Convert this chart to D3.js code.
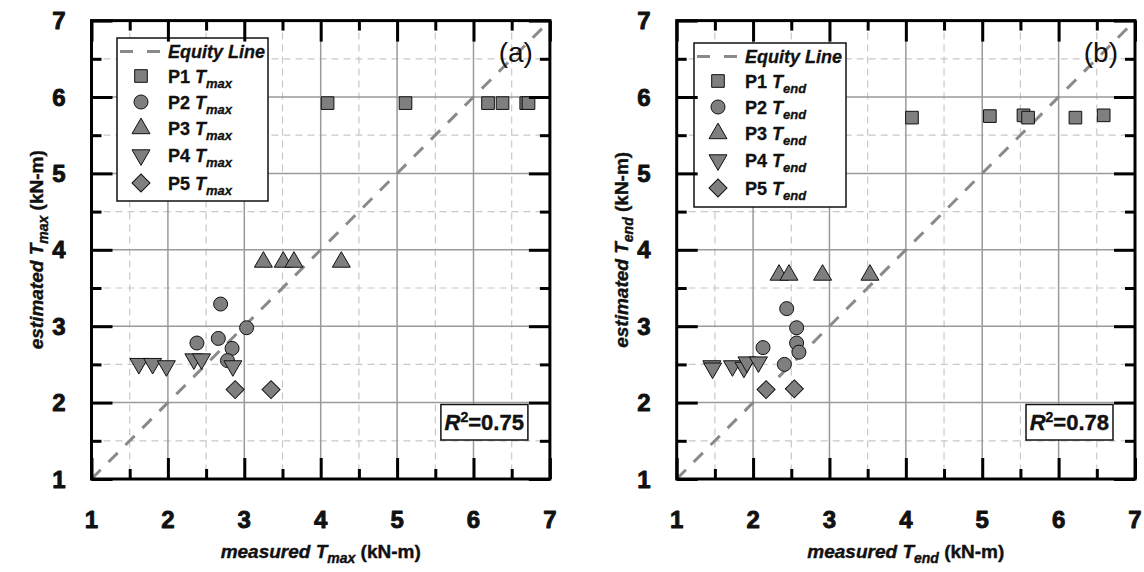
<!DOCTYPE html>
<html>
<head>
<meta charset="utf-8">
<script src="https://cdn.jsdelivr.net/npm/d3@7"></script>
<style>
  body { margin: 0; background: #fff; }
  svg { display: block; }
  text { font-family: "Liberation Sans", Arial, Helvetica, sans-serif; }
</style>
</head>
<body>
<svg id="chart" width="1144" height="572"></svg>
<script>
// ---- data ----
const axisTicks = [1, 2, 3, 4, 5, 6, 7];
const minorTicks = [1.5, 2.5, 3.5, 4.5, 5.5, 6.5];
const seriesNames = ["P1", "P2", "P3", "P4", "P5"];

// (a) maximum torque, measured vs estimated (kN-m)
const p1TmaxMeasured = [4.09, 5.11, 6.19, 6.38, 6.69, 6.72];
const p1TmaxEstimated = [5.92, 5.92, 5.92, 5.92, 5.92, 5.92];
const p2TmaxMeasured = [2.69, 3.03, 2.38, 2.66, 2.84, 2.78];
const p2TmaxEstimated = [3.29, 2.98, 2.78, 2.84, 2.71, 2.55];
const p3TmaxMeasured = [3.25, 3.51, 3.65, 4.27];
const p3TmaxEstimated = [3.84, 3.84, 3.84, 3.84];
const p4TmaxMeasured = [1.62, 1.80, 1.98, 2.34, 2.44, 2.85];
const p4TmaxEstimated = [2.51, 2.51, 2.48, 2.57, 2.57, 2.48];
const p5TmaxMeasured = [2.88, 3.35];
const p5TmaxEstimated = [2.17, 2.17];

// (b) end-of-test torque, measured vs estimated (kN-m)
const p1TendMeasured = [4.08, 5.10, 5.54, 5.60, 6.22, 6.59];
const p1TendEstimated = [5.73, 5.75, 5.76, 5.73, 5.73, 5.76];
const p2TendMeasured = [2.44, 2.57, 2.57, 2.60, 2.13, 2.41];
const p2TendEstimated = [3.23, 2.98, 2.78, 2.66, 2.72, 2.50];
const p3TendMeasured = [2.34, 2.47, 2.91, 3.53];
const p3TendEstimated = [3.67, 3.67, 3.67, 3.67];
const p4TendMeasured = [1.46, 1.47, 1.73, 1.88, 1.92, 2.07];
const p4TendEstimated = [2.48, 2.45, 2.48, 2.46, 2.53, 2.53];
const p5TendMeasured = [2.17, 2.54];
const p5TendEstimated = [2.17, 2.18];

const r2Values = ["0.75", "0.78"];
const panelLetters = ["(a)", "(b)"];
const subscripts = ["max", "end"];

// ---- layout ----
const svg = d3.select("#chart");
const plotTop = 20.6, plotBottom = 479;
const panels = [
  { left: 91.5, right: 549.9, legend: { x: 117, y: 38, w: 151, h: 163 },
    meas: [p1TmaxMeasured, p2TmaxMeasured, p3TmaxMeasured, p4TmaxMeasured, p5TmaxMeasured],
    est: [p1TmaxEstimated, p2TmaxEstimated, p3TmaxEstimated, p4TmaxEstimated, p5TmaxEstimated] },
  { left: 676.7, right: 1135, legend: { x: 694, y: 43, w: 152, h: 164 },
    meas: [p1TendMeasured, p2TendMeasured, p3TendMeasured, p4TendMeasured, p5TendMeasured],
    est: [p1TendEstimated, p2TendEstimated, p3TendEstimated, p4TendEstimated, p5TendEstimated] }
];

const markerFill = "#7f7f7f";
const inkColor = "#111";
const symbolDefs = [
  { type: d3.symbolSquare, size: 160, rot: 0 },
  { type: d3.symbolCircle, size: 154, rot: 0 },
  { type: d3.symbolTriangle, size: 140, rot: 0 },
  { type: d3.symbolTriangle, size: 140, rot: 180 },
  { type: d3.symbolSquare, size: 162, rot: 45 }
];

function drawMarker(g, def, x, y) {
  g.append("path")
    .attr("d", d3.symbol().type(def.type).size(def.size)())
    .attr("transform", `translate(${x},${y}) rotate(${def.rot})`)
    .attr("fill", markerFill)
    .attr("stroke", inkColor)
    .attr("stroke-width", 1);
}

// heavier bold text: fill plus a thin outline of the same ink
function heavy(sel, w) {
  return sel.attr("fill", inkColor).attr("stroke", inkColor).attr("stroke-width", w)
    .attr("stroke-linejoin", "round");
}

panels.forEach((p, pi) => {
  const x = d3.scaleLinear().domain([1, 7]).range([p.left, p.right]);
  const y = d3.scaleLinear().domain([1, 7]).range([plotBottom, plotTop]);
  const g = svg.append("g");
  const sub = subscripts[pi];

  // minor grid (dashed)
  g.selectAll(".mgx").data(minorTicks).join("line")
    .attr("x1", d => x(d)).attr("x2", d => x(d)).attr("y1", plotTop).attr("y2", plotBottom)
    .attr("stroke", "#c8c8c8").attr("stroke-width", 1.2).attr("stroke-dasharray", "7,5");
  g.selectAll(".mgy").data(minorTicks).join("line")
    .attr("y1", d => y(d)).attr("y2", d => y(d)).attr("x1", p.left).attr("x2", p.right)
    .attr("stroke", "#c8c8c8").attr("stroke-width", 1.2).attr("stroke-dasharray", "7,5");
  // major grid
  const majorInner = axisTicks.slice(1, -1);
  g.selectAll(".Mgx").data(majorInner).join("line")
    .attr("x1", d => x(d)).attr("x2", d => x(d)).attr("y1", plotTop).attr("y2", plotBottom)
    .attr("stroke", "#9a9a9a").attr("stroke-width", 1.5);
  g.selectAll(".Mgy").data(majorInner).join("line")
    .attr("y1", d => y(d)).attr("y2", d => y(d)).attr("x1", p.left).attr("x2", p.right)
    .attr("stroke", "#9a9a9a").attr("stroke-width", 1.5);

  // 1:1 equity line
  g.append("line")
    .attr("x1", x(1)).attr("y1", y(1)).attr("x2", x(7)).attr("y2", y(7))
    .attr("stroke", "#8a8a8a").attr("stroke-width", 3).attr("stroke-dasharray", "13,11");

  // legend box
  const L = p.legend;
  const lg = g.append("g");
  lg.append("rect").attr("x", L.x).attr("y", L.y).attr("width", L.w).attr("height", L.h)
    .attr("fill", "#fff").attr("stroke", inkColor).attr("stroke-width", 1.5);
  const rowY = [L.y + 13.5, L.y + 38, L.y + 64, L.y + 90.5, L.y + 117, L.y + 145];
  const symX = L.x + 24, txtX = L.x + 51;
  lg.append("line").attr("x1", L.x + 3).attr("x2", L.x + 43).attr("y1", rowY[0]).attr("y2", rowY[0])
    .attr("stroke", "#8a8a8a").attr("stroke-width", 3).attr("stroke-dasharray", "13,14");
  lg.append("text").attr("x", txtX).attr("y", rowY[0] + 6.5)
    .attr("font-size", 18).attr("font-weight", "bold").attr("font-style", "italic")
    .call(heavy, 0.3).text("Equity Line");
  seriesNames.forEach((name, si) => {
    const ry = rowY[si + 1];
    drawMarker(lg, symbolDefs[si], symX, ry);
    const t = lg.append("text").attr("x", txtX).attr("y", ry + 6.5)
      .attr("font-size", 18).attr("font-weight", "bold").call(heavy, 0.3);
    t.append("tspan").text(name + " ");
    t.append("tspan").attr("font-style", "italic").text("T");
    t.append("tspan").attr("font-style", "italic").attr("font-size", 13).attr("dy", 5).text(sub);
  });

  // data points
  const dg = g.append("g");
  seriesNames.forEach((name, si) => {
    p.meas[si].forEach((mv, k) => drawMarker(dg, symbolDefs[si], x(mv), y(p.est[si][k])));
  });

  // R² annotation
  const rBoxR = p.right - 22, rBoxW = 87;
  g.append("rect").attr("x", rBoxR - rBoxW).attr("y", 404.5).attr("width", rBoxW).attr("height", 35.5)
    .attr("fill", "#fff").attr("stroke", inkColor).attr("stroke-width", 1.5);
  const rt = g.append("text").attr("x", rBoxR - 4).attr("y", 430).attr("text-anchor", "end")
    .attr("font-size", 22).attr("font-weight", "bold").call(heavy, 0.4);
  rt.append("tspan").attr("font-style", "italic").text("R");
  rt.append("tspan").attr("font-size", 14).attr("dy", -8).text("2");
  rt.append("tspan").attr("dy", 8).text("=" + r2Values[pi]);

  // panel letter
  g.append("text").attr("x", p.right - 17).attr("y", 62).attr("text-anchor", "end")
    .attr("font-size", 28).attr("fill", inkColor).text(panelLetters[pi]);

  // frame
  g.append("rect").attr("x", p.left).attr("y", plotTop).attr("width", p.right - p.left).attr("height", plotBottom - plotTop)
    .attr("fill", "none").attr("stroke", "#000").attr("stroke-width", 3);

  // inward ticks on all four sides
  const tickStyle = sel => sel.attr("stroke", "#000").attr("stroke-width", 3);
  const axB = d3.axisBottom(x).tickValues(axisTicks).tickSize(-21).tickFormat("");
  const axT = d3.axisTop(x).tickValues(axisTicks).tickSize(-21).tickFormat("");
  const axL = d3.axisLeft(y).tickValues(axisTicks).tickSize(-21).tickFormat("");
  const axR = d3.axisRight(y).tickValues(axisTicks).tickSize(-21).tickFormat("");
  const mB = d3.axisBottom(x).tickValues(minorTicks).tickSize(-10).tickFormat("");
  const mT = d3.axisTop(x).tickValues(minorTicks).tickSize(-10).tickFormat("");
  const mL = d3.axisLeft(y).tickValues(minorTicks).tickSize(-10).tickFormat("");
  const mR = d3.axisRight(y).tickValues(minorTicks).tickSize(-10).tickFormat("");
  [[axB, `translate(0,${plotBottom})`], [axT, `translate(0,${plotTop})`], [axL, `translate(${p.left},0)`], [axR, `translate(${p.right},0)`],
   [mB, `translate(0,${plotBottom})`], [mT, `translate(0,${plotTop})`], [mL, `translate(${p.left},0)`], [mR, `translate(${p.right},0)`]]
    .forEach(([ax, tr]) => {
      const a = g.append("g").attr("transform", tr).call(ax);
      a.select(".domain").remove();
      a.selectAll(".tick line").call(tickStyle);
    });

  // tick labels
  g.selectAll(".xl").data(axisTicks).join("text")
    .attr("x", d => x(d)).attr("y", 528).attr("text-anchor", "middle")
    .attr("font-size", 24).attr("font-weight", "bold").call(heavy, 0.9).text(d => d);
  g.selectAll(".yl").data(axisTicks).join("text")
    .attr("x", p.left - 26).attr("y", d => y(d) + 8.6).attr("text-anchor", "end")
    .attr("font-size", 24).attr("font-weight", "bold").call(heavy, 0.9).text(d => d);

  // axis titles
  const xt = g.append("text").attr("x", (p.left + p.right) / 2).attr("y", 558).attr("text-anchor", "middle")
    .attr("font-size", 19).attr("font-weight", "bold").call(heavy, 0.4);
  xt.append("tspan").attr("font-style", "italic").text("measured T");
  xt.append("tspan").attr("font-style", "italic").attr("font-size", 14).attr("dy", 5).text(sub);
  xt.append("tspan").attr("dy", -5).text(" (kN-m)");

  const yt = g.append("text")
    .attr("transform", `translate(${p.left - 49},${(plotTop + plotBottom) / 2}) rotate(-90)`)
    .attr("text-anchor", "middle")
    .attr("font-size", 19).attr("font-weight", "bold").call(heavy, 0.4);
  yt.append("tspan").attr("font-style", "italic").text("estimated T");
  yt.append("tspan").attr("font-style", "italic").attr("font-size", 14).attr("dy", 5).text(sub);
  yt.append("tspan").attr("dy", -5).text(" (kN-m)");
});
</script>
</body>
</html>
